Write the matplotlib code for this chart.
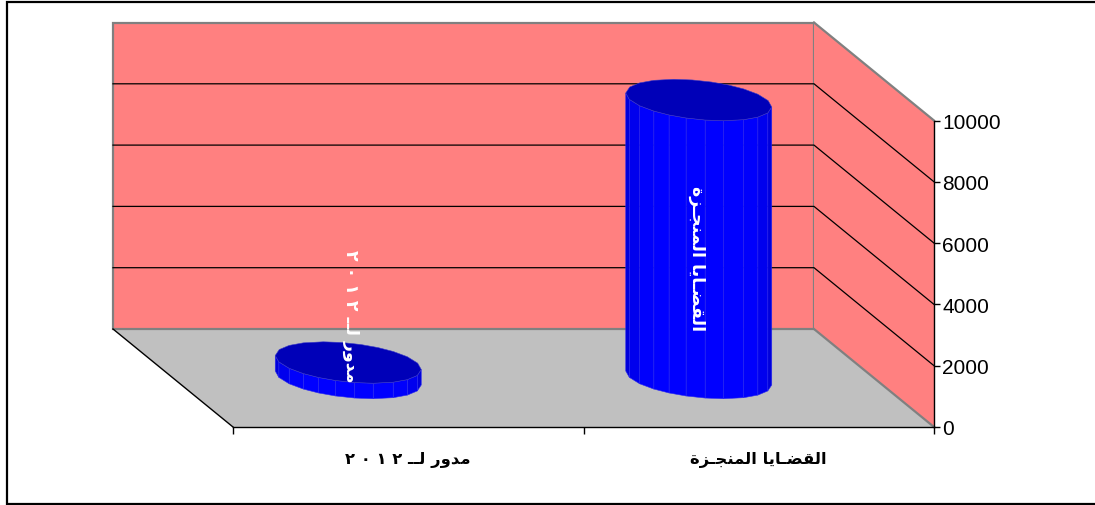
import numpy as np
import matplotlib
matplotlib.use("Agg")
import matplotlib.pyplot as plt
from matplotlib.lines import Line2D
from matplotlib.patches import Polygon

# Visual-order presentation forms, since matplotlib does not shape Arabic
cat_done = "\uFE93\uFEB0\u0640\uFEA0\uFEE8\uFEE4\uFEDF\uFE8D \uFE8E\uFEF3\uFE8E\u0640\uFEC0\uFED8\uFEDF\uFE8D"
cat_open = "\u0662 \u0660 \u0661 \u0662 \u0640\u0640\uFEDF \uFEAD\uFEED\uFEAA\uFEE3"
categories = [cat_open, cat_done]
values = [505, 9070]
y_ticks = [0, 2000, 4000, 6000, 8000, 10000]

W, H = 1095, 506
L, R, T, B = 233, 934, 121.5, 428
DX, DY = 120, 98            # depth vector in pixels
sx, sy = 2 / (R - L), 10000 / (B - T)

fig = plt.figure(figsize=(W / 100, H / 100), dpi=100, facecolor="white")
ax = fig.add_axes([L / W, 1 - B / H, (R - L) / W, (B - T) / H], facecolor="none")
ax.set_xlim(0, 2)
ax.set_ylim(0, 10000)


def proj(x, v, depth=0.0, px=0.0, py=0.0):
    """Category/value/depth -> axis data, px/py are pixel nudges (py downward)."""
    return (x + (px - DX * depth) * sx, v + (DY * depth - py) * sy)


def poly(points, **kw):
    kw.setdefault("clip_on", False)
    ax.add_patch(Polygon(points, closed=True, **kw))


WALL, FLOOR, EDGE = "#FF8080", "#C0C0C0", "#808080"
poly([proj(0, 0, 1), proj(2, 0, 1), proj(2, 0, 0), proj(0, 0, 0)], fc=FLOOR, ec="none", zorder=1)
poly([proj(0, 0, 1), proj(2, 0, 1), proj(2, 10000, 1), proj(0, 10000, 1)], fc=WALL, ec=EDGE, lw=1.6, zorder=1)
poly([proj(2, 0, 1), proj(2, 0, 0), proj(2, 10000, 0), proj(2, 10000, 1)], fc=WALL, ec="none", zorder=1)

# edges
ax.plot(*zip(proj(2, 0, 1), proj(2, 0, 0)), color=EDGE, lw=1.6, clip_on=False, zorder=1.5)
ax.plot(*zip(proj(2, 10000, 1), proj(2, 10000, 0)), color=EDGE, lw=1.6, clip_on=False, zorder=1.5)
ax.plot(*zip(proj(0, 0, 1), proj(0, 0, 0)), color="black", lw=1.0, clip_on=False, zorder=1.5)

# gridlines on back and side walls
for v in y_ticks[1:-1]:
    ax.plot(*zip(proj(0, v, 1), proj(2, v, 1), proj(2, v, 0)), color="black", lw=0.9,
            clip_on=False, zorder=1.6, solid_joinstyle="miter")

# cylinders
RX, RP, RQ = 73, 7, 19.5
front = np.radians([0, 19, 36, 52, 70, 85, 100, 114, 128, 144, 162, 180])
ring = np.concatenate([front, front[1:-1] + np.pi])


def ell(i, v, t):
    return proj(i + 0.5, v, 0.5, RX * np.cos(t), RP * np.cos(t) + RQ * np.sin(t))


for i, v in enumerate(values):
    for a, b in zip(front[:-1], front[1:]):
        m = (a + b) / 2
        shade = 0.82 + 0.18 * min(1.0, np.sin(m) * 1.35)
        poly([ell(i, 0, a), ell(i, 0, b), ell(i, v, b), ell(i, v, a)], fc=(0, 0, shade),
             ec="#2A2AF0", lw=0.4, zorder=3)
    poly([ell(i, v, t) for t in ring], fc="#0000B8", ec="#3A3AC8", lw=0.4, zorder=3.2)

# white rotated labels over the cylinders
label_pos = [(351, 316), (697, 259)]
for (px, py), lab in zip(label_pos, categories):
    ax.text((px - L) * sx, (B - py) * sy, lab, rotation=270, ha="center", va="center",
            rotation_mode="anchor", color="white", fontsize=12.5, fontweight="bold",
            family="DejaVu Sans", clip_on=False, zorder=5)

# real axes
for s in ("left", "top"):
    ax.spines[s].set_visible(False)
ax.spines["right"].set_linewidth(1.0)
ax.spines["bottom"].set_linewidth(1.0)
ax.yaxis.tick_right()
ax.set_yticks(y_ticks)
ax.set_yticklabels([str(v) for v in y_ticks], fontsize=15, family="Liberation Sans")
ax.tick_params(axis="y", length=4, width=1, pad=2, colors="black")
ax.set_xticks([0, 1, 2])
ax.set_xticklabels([])
ax.tick_params(axis="x", which="major", length=5, width=1)
ax.set_xticks([0.5, 1.5], minor=True)
ax.set_xticklabels(categories, minor=True, fontsize=11.8, fontweight="bold", family="DejaVu Sans")
ax.tick_params(axis="x", which="minor", length=0, pad=17)

# outer border: top, left and bottom only (the right side runs off the picture)
bx = np.array([1095, 7, 7, 1095]) / W
by = 1 - np.array([2.5, 2.5, 505, 505]) / H
fig.add_artist(Line2D(bx, by, transform=fig.transFigure, color="black", lw=1.6, solid_joinstyle="miter"))

fig.savefig("out.png", dpi=100)
